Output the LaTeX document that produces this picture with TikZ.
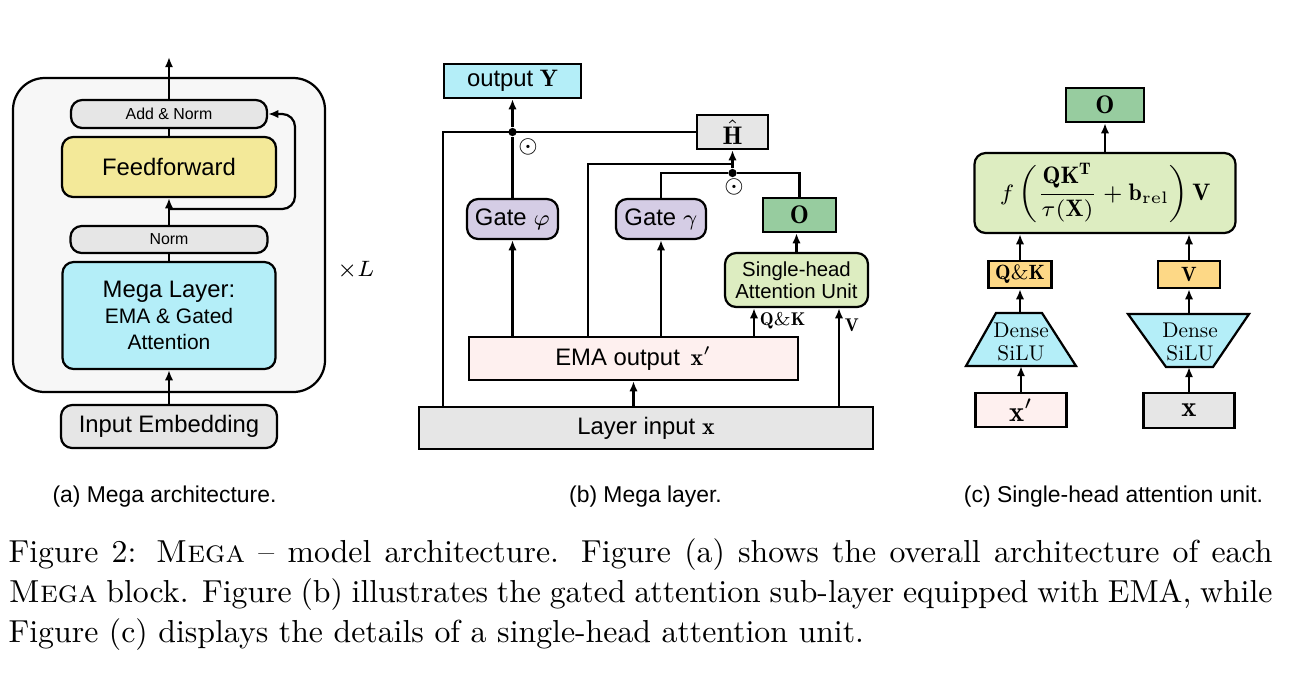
\documentclass[tikz,border=0pt]{standalone}
\usepackage{amsmath,amssymb}
\usepackage{fontspec}
\newfontfamily\hv{Liberation Sans}
\newfontfamily\lmten{lmroman10-regular.otf}
\usetikzlibrary{arrows.meta,positioning,calc}
\definecolor{boxgray}{HTML}{E6E6E6}
\definecolor{outgray}{HTML}{F7F7F7}
\definecolor{ffyellow}{HTML}{F3E999}
\definecolor{megacyan}{HTML}{B4EEF8}
\definecolor{gatelila}{HTML}{D5CDE5}
\definecolor{odkgreen}{HTML}{97CC9F}
\definecolor{attgreen}{HTML}{DDEDC1}
\definecolor{emapink}{HTML}{FEF0EF}
\definecolor{qkorange}{HTML}{FDD886}
\tikzset{
  >={Latex[length=3.2pt,width=2.6pt]},
  sz/.style 2 args={minimum width=#1*0.3145pt,minimum height=#2*0.3145pt},
  blk/.style={draw=black,line width=0.7pt,inner sep=0pt,align=center},
  rblk/.style={blk,rounded corners=3.5pt},
  con/.style={line width=0.7pt},
  arr/.style={con,->},
  dot/.style={circle,fill=black,inner sep=0pt,minimum size=2.6pt},
  odot/.style={inner sep=0pt,font=\fontsize{7.5}{9}\selectfont},
  % schrift
  hvl/.style={font=\hv\fontsize{7.5}{9}\selectfont},
  hvm/.style={font=\hv\fontsize{6.6}{8.2}\selectfont},
  hvs/.style={font=\hv\fontsize{5}{6}\selectfont},
  mtx/.style={font=\fontsize{9}{10}\selectfont},
  mtl/.style={font=\fontsize{8}{9.6}\selectfont},
  mts/.style={font=\fontsize{6.5}{7.6}\selectfont},
  mtq/.style={font=\fontsize{5.8}{6.8}\selectfont},
  dns/.style={align=center,inner sep=0pt,font=\lmten\fontsize{6.7}{7}\selectfont},
  subcap/.style={font=\hv\fontsize{7.2}{8.6}\selectfont,anchor=base},
}
\begin{document}
\begin{tikzpicture}[x=0.3145pt,y=-0.3145pt]
  \useasboundingbox (0,0) rectangle (1294,676);
  % (a) Mega architecture
  \node[blk,fill=outgray,rounded corners=10pt,sz={312}{314}] (blockA) at (169,235) {};
  \node[rblk,fill=boxgray,sz={196}{28},hvs] (addnorm) at (169,114) {Add \& Norm};
  \node[rblk,fill=ffyellow,sz={214}{60},hvl] (ffwd) at (169,167) {Feedforward};
  \node[rblk,fill=boxgray,sz={197}{27},hvs] (norm) at (169,239.5) {Norm};
  \node[rblk,fill=megacyan,sz={213}{107},hvm] (mega) at (169,315.5)
    {{\fontsize{7.5}{8.2}\selectfont Mega Layer:}\\EMA \& Gated\\Attention};
  \node[rblk,fill=boxgray,sz={216}{43},hvl] (inemb) at (169,426.5) {Input Embedding};
  \node[font=\fontsize{7}{8}\selectfont] (nL) at (356,270) {$\times L$};
  \coordinate (outA) at (169,57);
  \coordinate (resA) at (169,209);
  \coordinate (resR) at (295,0);
  \draw[arr] (inemb.north) -- (mega.south);
  \draw[con] (mega.north) -- (norm.south);
  \draw[arr] (norm.north) -- (ffwd.south);
  \draw[con] (ffwd.north) -- (addnorm.south);
  \draw[arr] (addnorm.north) -- (outA);
  \draw[arr,rounded corners=4pt] (resA) -| (resR |- addnorm.east) -- (addnorm.east);
  % (b) Mega layer
  \node[blk,fill=megacyan,sz={137}{34},hvl] (outY) at (512.5,81) {output $\mathbf{Y}$};
  \node[blk,fill=boxgray,sz={71}{34},mtl] (hhat) at (732.5,132) {$\hat{\mathbf{H}}$};
  \node[rblk,fill=gatelila,sz={91}{40},hvl] (gphi) at (512.5,219) {Gate $\varphi$};
  \node[rblk,fill=gatelila,sz={90}{40},hvl] (ggam) at (661,219) {Gate $\gamma$};
  \node[blk,fill=odkgreen,sz={73}{34},mtl] (obox) at (799.5,215) {$\mathbf{O}$};
  \node[rblk,fill=attgreen,sz={143}{54},font=\hv\fontsize{6.4}{6.9}\selectfont] (shau) at (796.5,280)
    {Single-head\\Attention Unit};
  \node[blk,fill=emapink,sz={329}{43},hvl] (ema) at (633.5,358.5) {EMA output\, $\mathbf{x}'$};
  \node[blk,fill=boxgray,sz={454}{42},hvl] (lin) at (646,428) {Layer input $\mathbf{x}$};
  \node[dot] (m1) at (512.5,132) {};
  \node[dot] (m2) at (732.5,173) {};
  \node[odot] (o1) at (528,147) {$\odot$};
  \node[odot] (o2) at (734,187) {$\odot$};
  \coordinate (skx) at (443,0);
  \coordinate (emx) at (588,164);
  \coordinate (qkx) at (754,0);
  \coordinate (vx) at (839,0);
  \draw[con] (lin.north -| skx) |- (hhat.west);
  \draw[arr] (lin.north -| ema.south) -- (ema.south);
  \draw[arr] (ema.north -| gphi.south) -- (gphi.south);
  \draw[arr] (ema.north -| ggam.south) -- (ggam.south);
  \draw[con] (gphi.north) -- (m1);
  \draw[arr] (m1) -- (outY.south);
  \draw[con] (ema.north -| emx) |- (hhat.south |- emx);
  \draw[con] (obox.north) |- (m2) -| (ggam.north);
  \draw[arr] (m2) -- (hhat.south);
  \draw[arr] (shau.north) -- (shau.north |- obox.south);
  \draw[arr] (ema.north -| qkx) -- node[mtq,right,pos=0.55,inner sep=1.5pt]{$\mathbf{Q}\&\mathbf{K}$} (shau.south -| qkx);
  \draw[arr] (lin.north -| vx) -- node[mtq,right,pos=0.83,inner sep=1.5pt]{$\mathbf{V}$} (shau.south -| vx);
  % (c) Single-head attention unit
  \node[blk,fill=odkgreen,sz={78}{34},mtl] (oc) at (1105,105) {$\mathbf{O}$};
  \node[rblk,fill=attgreen,sz={261}{80},font=\fontsize{7.5}{9}\selectfont] (fbox) at (1105,193)
    {$\displaystyle f\left(\frac{\mathbf{QK^T}}{\tau(\mathbf{X})}+\mathbf{b}_{\text{rel}}\right)\mathbf{V}$};
  \node[blk,fill=qkorange,sz={63}{27},mts] (qk) at (1020,274.5) {$\mathbf{Q}\&\mathbf{K}$};
  \node[blk,fill=qkorange,sz={62}{27},mts] (vb) at (1189,274.5) {$\mathbf{V}$};
  \draw[blk,fill=megacyan] (966,366) -- (996,313) -- (1042,313) -- (1076,366) -- cycle;
  \draw[blk,fill=megacyan] (1128,314) -- (1249,314) -- (1213,367) -- (1166,367) -- cycle;
  \node[dns] (dl) at (1021,342) {Dense\\SiLU};
  \node[dns] (dr) at (1190,342) {Dense\\SiLU};
  \node[blk,fill=emapink,sz={91}{34},mtx] (xp) at (1021,410) {$\mathbf{x}'$};
  \node[blk,fill=boxgray,sz={91}{35},mtx] (xb) at (1189,410.5) {$\mathbf{x}$};
  \coordinate (dlt) at (1020,313);
  \coordinate (dlb) at (1021,366);
  \coordinate (drt) at (1189,314);
  \coordinate (drb) at (1189,367);
  \draw[arr] (xp.north) -- (dlb);
  \draw[arr] (xb.north) -- (drb);
  \draw[arr] (dlt) -- (qk.south);
  \draw[arr] (drt) -- (vb.south);
  \draw[arr] (qk.north) -- (fbox.south -| qk.north);
  \draw[arr] (vb.north) -- (fbox.south -| vb.north);
  \draw[arr] (fbox.north) -- (fbox.north |- oc.south);
  % captions
  \node[subcap] (capA) at (164.5,502) {(a) Mega architecture.};
  \node[subcap] (capB) at (645.5,502) {(b) Mega layer.};
  \node[subcap] (capC) at (1113.5,502) {(c) Single-head attention unit.};
  \node[anchor=base west,inner sep=0pt,text width=397.5pt,align=justify,
    font=\fontsize{10}{12.58}\selectfont] (cap) at (8,562)
    {Figure 2: \textsc{Mega} -- model architecture. Figure (a) shows the overall architecture of each\linebreak
     \textsc{Mega} block. Figure (b) illustrates the gated attention sub-layer equipped with EMA, while\linebreak
     Figure (c) displays the details of a single-head attention unit.};
\end{tikzpicture}
\end{document}
